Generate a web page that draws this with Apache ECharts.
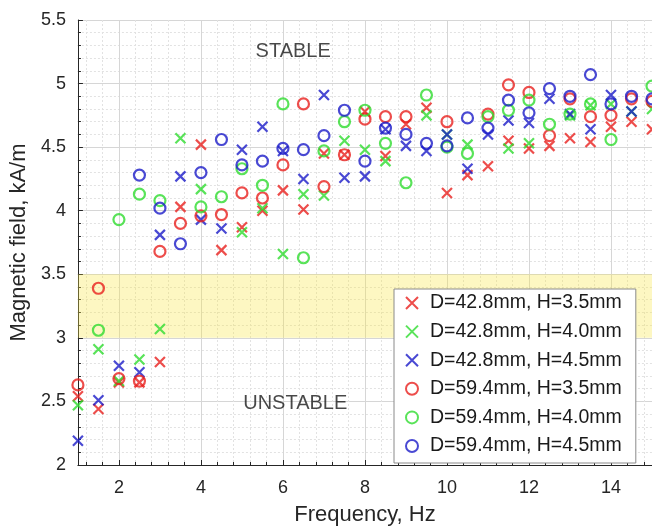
<!DOCTYPE html>
<html>
<head>
<meta charset="utf-8">
<script src="https://cdn.jsdelivr.net/npm/echarts@6/dist/echarts.min.js"></script>
<style>
html,body{margin:0;padding:0;background:#fff;}
#chart{width:652px;height:531px;}
</style>
</head>
<body>
<div id="chart"></div>
<script>
// Frequencies (Hz)
const freqs = [1,1.5,2,2.5,3,3.5,4,4.5,5,5.5,6,6.5,7,7.5,8,8.5,9,9.5,10,10.5,11,11.5,12,12.5,13,13.5,14,14.5,15];

// Magnetic field values (kA/m), null = not visible
const d428_h35 = [2.54,2.44,2.65,2.65,2.81,4.03,4.52,3.69,3.87,4.00,4.16,4.01,4.45,4.44,4.78,4.43,4.68,4.81,4.14,4.28,4.35,4.55,4.49,4.51,4.57,4.54,4.66,4.70,4.64];
const d428_h40 = [2.47,2.91,2.66,2.83,3.07,4.57,4.17,null,3.83,4.02,3.66,4.13,4.12,4.55,4.48,4.39,null,4.75,4.60,4.52,null,4.49,4.53,null,4.75,4.83,4.84,4.78,4.80];
const d428_h45 = [2.19,2.51,2.78,2.73,3.81,4.27,3.93,3.86,4.48,4.66,4.47,4.25,4.91,4.26,4.27,4.64,4.51,4.47,4.60,4.33,4.60,4.71,4.69,4.88,4.76,4.64,4.91,4.78,null];
const d594_h35 = [2.63,3.39,2.68,2.66,3.68,3.90,3.96,3.97,4.14,4.10,4.36,4.84,4.19,4.44,4.72,4.74,4.74,null,4.70,null,4.76,4.99,4.93,4.59,4.88,4.74,4.75,4.88,4.86];
const d594_h40 = [null,3.06,3.93,4.13,4.08,null,4.03,4.11,4.33,4.20,4.84,3.63,4.47,4.70,4.79,4.53,4.22,4.91,4.50,4.45,4.74,4.79,4.87,4.68,4.76,4.84,4.56,null,4.98];
const d594_h45 = [null,null,null,4.28,4.02,3.74,4.30,4.56,4.36,4.39,4.49,4.48,4.59,4.79,4.39,4.65,4.60,4.53,4.51,4.73,4.65,4.87,4.77,4.96,4.90,5.07,4.84,4.90,4.88];

const seriesNames = ['D=42.8mm, H=3.5mm','D=42.8mm, H=4.0mm','D=42.8mm, H=4.5mm','D=59.4mm, H=3.5mm','D=59.4mm, H=4.0mm','D=59.4mm, H=4.5mm'];
const seriesValues = [d428_h35, d428_h40, d428_h45, d594_h35, d594_h40, d594_h45];

// Axis settings
const xRange = [1, 15];
const yRange = [2, 5.5];
const yStep = 0.5;
const transitionBand = [3, 3.5];

// Region annotations
const regionLabels = [
  {name: 'STABLE', value: [6.25, 5.25]},
  {name: 'UNSTABLE', value: [6.3, 2.48]}
];

const RED = '#e8201e', GREEN = '#30dc30', BLUE = '#1c1cc8';
const colors = [RED, GREEN, BLUE, RED, GREEN, BLUE];
const CROSS = 'path://M0,0L10,10M10,0L0,10';
const FONT = '"Liberation Sans", Arial, Helvetica, sans-serif';
const AX = '#262626';

const chart = echarts.init(document.getElementById('chart'), null, {renderer: 'canvas'});

const series = [{
  type: 'scatter',
  name: 'labels',
  silent: true,
  symbolSize: 0,
  data: regionLabels,
  label: {show: true, position: 'inside', formatter: '{b}', fontFamily: FONT, fontSize: 20, color: '#1a1a1a'},
  markArea: {
    silent: true,
    itemStyle: {color: 'rgba(250,232,70,0.33)'},
    data: [[{yAxis: transitionBand[0]}, {yAxis: transitionBand[1]}]]
  }
}];

seriesNames.forEach((nm, i) => {
  const isCross = i < 3;
  const data = [];
  freqs.forEach((f, k) => { if (seriesValues[i][k] != null) data.push([f, seriesValues[i][k]]); });
  series.push({
    type: 'scatter',
    name: nm,
    data: data,
    symbol: isCross ? CROSS : 'circle',
    symbolSize: isCross ? 10 : 11,
    itemStyle: {color: 'rgba(0,0,0,0)', borderColor: colors[i], borderWidth: 2.2},
    emphasis: {disabled: true}
  });
});

chart.setOption({
  animation: false,
  backgroundColor: '#fff',
  grid: {left: 75, top: 20, right: -1, bottom: 58, containLabel: false},
  legend: {
    data: seriesNames,
    orient: 'vertical',
    left: 394, top: 289,
    padding: [4, 14, 7, 11],
    itemWidth: 12, itemHeight: 12, itemGap: 8.6,
    backgroundColor: '#fff',
    borderColor: '#8a8a8a', borderWidth: 1, borderRadius: 0,
    textStyle: {fontFamily: FONT, fontSize: 19.5, color: '#1a1a1a', lineHeight: 20, padding: [0, 0, 0, 7]}
  },
  xAxis: {
    type: 'value',
    min: xRange[0], max: xRange[1],
    splitNumber: 7, minInterval: 2, maxInterval: 2,
    name: 'Frequency, Hz', nameLocation: 'middle', nameGap: 39,
    nameTextStyle: {fontFamily: FONT, fontSize: 22, color: AX},
    axisLine: {show: true, onZero: false, lineStyle: {color: AX, width: 1}},
    axisTick: {show: true, inside: true, length: 5, lineStyle: {color: AX}},
    minorTick: {show: true, splitNumber: 5, length: 3, lineStyle: {color: AX}},
    axisLabel: {fontFamily: FONT, fontSize: 18, color: AX, margin: 14, showMinLabel: false, showMaxLabel: false},
    splitLine: {show: true, lineStyle: {color: '#d6d6d6', width: 1}},
    minorSplitLine: {show: true, lineStyle: {color: '#e2e2e2', width: 1, type: [2, 2]}}
  },
  yAxis: {
    type: 'value',
    min: yRange[0], max: yRange[1], interval: yStep,
    name: 'Magnetic field, kA/m', nameLocation: 'middle', nameGap: 46,
    nameTextStyle: {fontFamily: FONT, fontSize: 22, color: AX},
    axisLine: {show: true, onZero: false, lineStyle: {color: AX, width: 1}},
    axisTick: {show: true, inside: true, length: 5, lineStyle: {color: AX}},
    minorTick: {show: true, splitNumber: 5, length: 3, lineStyle: {color: AX}},
    axisLabel: {fontFamily: FONT, fontSize: 18, color: AX, margin: 12},
    splitLine: {show: true, lineStyle: {color: '#d6d6d6', width: 1}},
    minorSplitLine: {show: true, lineStyle: {color: '#e2e2e2', width: 1, type: [2, 2]}}
  },
  series: series
});
</script>
</body>
</html>
